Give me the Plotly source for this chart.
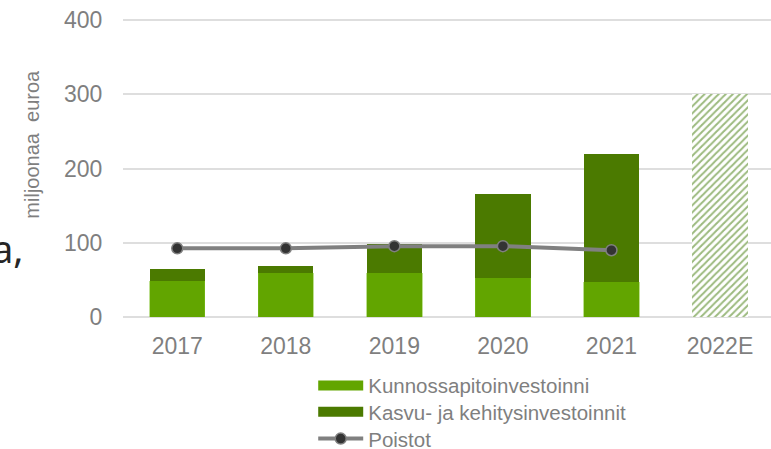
import plotly.graph_objects as go

years = ["2017", "2018", "2019", "2020", "2021", "2022E"]
kunnossapito = [49, 59.5, 59.5, 53, 47.5, None]
kasvu = [15.5, 9.5, 39, 113, 172.5, None]
arvio_2022 = [None, None, None, None, None, 301]
poistot = [92.5, 92.5, 95.5, 95.5, 90, None]

GRAY = "#7f7f7f"
FONT = "Liberation Sans"
LIGHT = "#62a500"
DARK = "#4b7a00"

fig = go.Figure()
fig.add_trace(go.Bar(x=years, y=kunnossapito, name="Kunnossapitoinvestoinni",
                     marker=dict(color=LIGHT, line=dict(color="#7cc022", width=0.5)),
                     width=0.51, showlegend=False))
fig.add_trace(go.Bar(x=years, y=kasvu, name="Kasvu- ja kehitysinvestoinnit",
                     marker=dict(color=DARK, line=dict(color=DARK, width=0)),
                     width=0.51, showlegend=False))
fig.add_trace(go.Bar(x=years, y=arvio_2022, name="2022E",
                     marker=dict(color="white", line=dict(width=0),
                                 pattern=dict(shape="/", fgcolor="#3a7500", bgcolor="white",
                                              size=5, solidity=0.4)),
                     width=0.51, showlegend=False))
fig.add_trace(go.Scatter(x=years, y=poistot, name="Poistot", mode="lines+markers",
                         line=dict(color="#808080", width=4),
                         marker=dict(color="#333333", size=11, line=dict(color="#808080", width=1.5)),
                         showlegend=False))
# legend entries (one legend per row)
fig.add_trace(go.Scatter(x=[None], y=[None], mode="lines", name="Kunnossapitoinvestoinni",
                         line=dict(color=LIGHT, width=10), legend="legend"))
fig.add_trace(go.Scatter(x=[None], y=[None], mode="lines", name="Kasvu- ja kehitysinvestoinnit",
                         line=dict(color=DARK, width=10), legend="legend2"))
fig.add_trace(go.Scatter(x=[None], y=[None], mode="lines+markers", name="Poistot",
                         line=dict(color="#808080", width=4),
                         marker=dict(color="#333333", size=11, line=dict(color="#808080", width=1.5)),
                         legend="legend3"))

L, R, T, B = 122.7, 0, 17.5, 132
W = 771 - L - R
H = 449 - T - B
BOTTOM = 449 - B


def px(x):
    return (x - L) / W


def py(y):
    return (BOTTOM - y) / H


def leg(y):
    return dict(orientation="v", x=px(313), xanchor="left", y=py(y), yanchor="middle",
                font=dict(size=20.5, color=GRAY, family=FONT), itemwidth=45,
                bgcolor="rgba(0,0,0,0)")


fig.update_layout(
    width=771, height=449,
    margin=dict(l=L, r=R, t=T, b=B, autoexpand=False),
    barmode="stack",
    plot_bgcolor="white", paper_bgcolor="white",
    font=dict(family=FONT, color=GRAY),
    showlegend=True,
    hovermode=False,
    legend=leg(385.7), legend2=leg(412), legend3=leg(439),
    xaxis=dict(type="category", range=[-0.5, 5.47], showgrid=False, showline=False,
               tickfont=dict(size=23, color=GRAY), ticks="outside", ticklen=8,
               tickcolor="rgba(0,0,0,0)", zeroline=False, automargin=False),
    yaxis=dict(range=[0, 403], tickvals=[0, 100, 200, 300, 400], showgrid=True,
               gridcolor="#dedede", gridwidth=2,
               zeroline=True, zerolinecolor="#dedede", zerolinewidth=2,
               tickfont=dict(size=23, color=GRAY), ticks="outside", ticklen=15,
               tickcolor="rgba(0,0,0,0)", showline=False, automargin=False,
               ticklabeloverflow="allow"),
)

fig.add_annotation(text="miljoonaa  euroa", xref="paper", yref="paper",
                   x=px(32), y=py(144), textangle=-90,
                   showarrow=False, font=dict(size=20, color=GRAY, family=FONT),
                   xanchor="center", yanchor="middle")
fig.add_annotation(text="a,", xref="paper", yref="paper",
                   x=px(26), y=py(248), showarrow=False,
                   font=dict(size=38, color="#262626", family="Noto Sans"),
                   xanchor="right", yanchor="middle")

fig.write_html("out.html", config={"displayModeBar": False},
               post_script="document.body.style.margin='0';")
